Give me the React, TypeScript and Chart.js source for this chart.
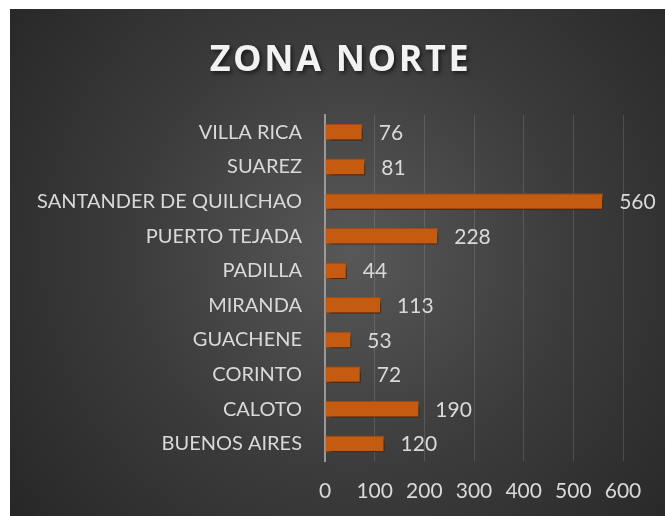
import React, { useEffect, useRef } from "react";
import { Chart, registerables } from "chart.js";

Chart.register(...registerables);

const titleText = "ZONA NORTE";
const categories = [
  "VILLA RICA",
  "SUAREZ",
  "SANTANDER DE QUILICHAO",
  "PUERTO TEJADA",
  "PADILLA",
  "MIRANDA",
  "GUACHENE",
  "CORINTO",
  "CALOTO",
  "BUENOS AIRES",
];
const values = [76, 81, 560, 228, 44, 113, 53, 72, 190, 120];
const axisMin = 0;
const axisMax = 600;
const axisStep = 100;

const FONT = "Lato, 'Open Sans', sans-serif";
const TEXT = "#D9D9D9";

export default function App() {
  const ref = useRef<HTMLCanvasElement | null>(null);

  useEffect(() => {
    if (!ref.current) return;

    const shadowPlugin = {
      id: "barShadow",
      beforeDatasetsDraw(chart: any) {
        const ctx = chart.ctx;
        ctx.save();
        ctx.shadowColor = "rgba(0,0,0,0.65)";
        ctx.shadowBlur = 5;
        ctx.shadowOffsetX = 3;
        ctx.shadowOffsetY = 3;
      },
      afterDatasetsDraw(chart: any) {
        chart.ctx.restore();
      },
    };

    const labelsPlugin = {
      id: "valueLabels",
      afterDraw(chart: any) {
        const ctx = chart.ctx;
        const meta = chart.getDatasetMeta(0);
        ctx.save();
        ctx.font = `21px ${FONT}`;
        ctx.fillStyle = TEXT;
        ctx.textAlign = "left";
        ctx.textBaseline = "middle";
        meta.data.forEach((bar: any, i: number) => {
          ctx.fillText(String(chart.data.datasets[0].data[i]), bar.x + 16, bar.y + 1);
        });
        ctx.restore();

        // Title
        ctx.save();
        ctx.font = `bold 36px 'Open Sans', ${FONT}`;
        (ctx as any).letterSpacing = "2.6px";
        ctx.fillStyle = "#F2F2F2";
        ctx.textAlign = "center";
        ctx.textBaseline = "alphabetic";
        ctx.shadowColor = "rgba(0,0,0,0.6)";
        ctx.shadowBlur = 4;
        ctx.shadowOffsetX = 2;
        ctx.shadowOffsetY = 2;
        ctx.fillText(titleText, chart.width / 2 + 3, 62);
        ctx.restore();
      },
    };

    const chart = new Chart(ref.current, {
      type: "bar",
      data: {
        labels: categories,
        datasets: [
          {
            data: values,
            backgroundColor: "#C55A11",
            borderColor: "#A94C0E",
            borderWidth: 1,
            categoryPercentage: 1,
            barPercentage: 0.48,
          },
        ],
      },
      options: {
        indexAxis: "y",
        animation: false,
        responsive: false,
        layout: { padding: { top: 106, right: 42, bottom: 0, left: 0 } },
        plugins: {
          legend: { display: false },
          title: { display: false },
          tooltip: { enabled: false },
        },
        scales: {
          x: {
            min: axisMin,
            max: axisMax,
            ticks: {
              stepSize: axisStep,
              color: TEXT,
              font: { family: FONT, size: 21 },
              padding: 18,
            },
            grid: {
              color: "rgba(255,255,255,0.13)",
              lineWidth: 1,
              drawTicks: false,
            },
            border: { display: false },
            afterFit(scale: any) {
              scale.height = 55;
            },
          },
          y: {
            ticks: {
              color: TEXT,
              font: { family: FONT, size: 20 },
              padding: 23,
            },
            grid: { display: false, drawTicks: false },
            border: { display: true, color: "#9A9A9A", width: 2 },
            afterFit(scale: any) {
              scale.width = 315;
            },
          },
        },
      },
      plugins: [shadowPlugin, labelsPlugin],
    });

    return () => chart.destroy();
  }, []);

  return (
    <div
      style={{
        position: "fixed",
        left: 10,
        top: 9,
        width: 655,
        height: 507,
        background:
          "radial-gradient(circle farthest-corner at 52% 48%, #585858 0%, #3c3c3c 50%, #272727 100%)",
      }}
    >
      <canvas ref={ref} width={655} height={507} style={{ display: "block" }} />
    </div>
  );
}
